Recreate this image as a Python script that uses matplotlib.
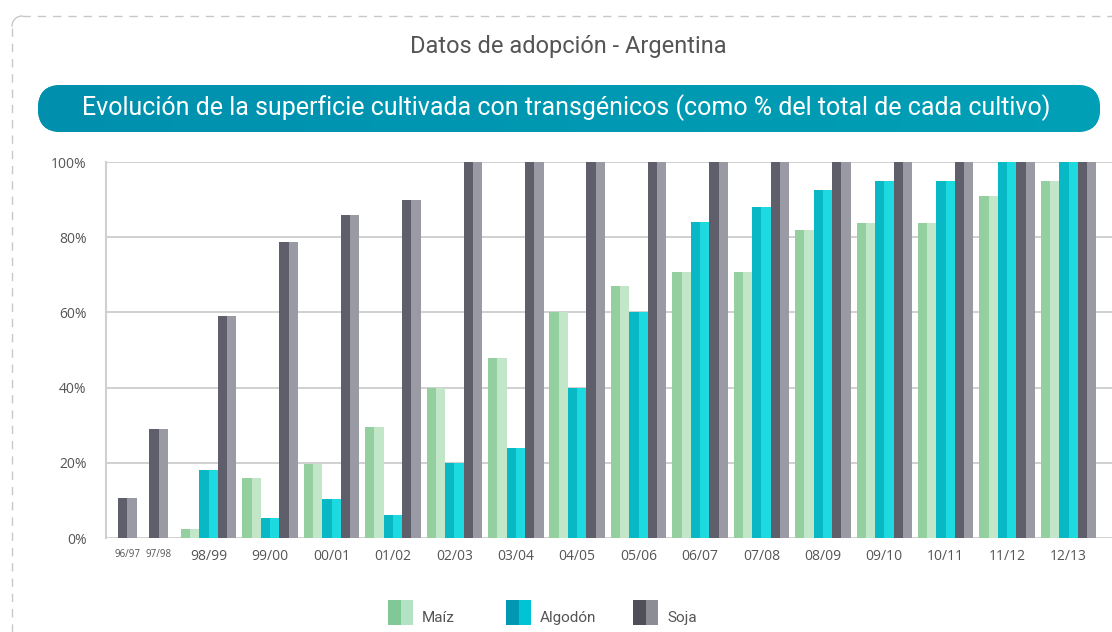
import numpy as np
import matplotlib
matplotlib.use("Agg")
import matplotlib.pyplot as plt
from matplotlib.patches import FancyBboxPatch, Rectangle

# data (% of each crop's total area)
campaigns = ["96/97", "97/98", "98/99", "99/00", "00/01", "01/02", "02/03", "03/04", "04/05",
             "05/06", "06/07", "07/08", "08/09", "09/10", "10/11", "11/12", "12/13"]
maiz = [None, None, 2.4, 16, 19.7, 29.4, 40, 48, 60, 67, 70.8, 70.8, 82, 83.7, 83.7, 91, 95]
algodon = [None, None, 18, 5.4, 10.3, 6, 20, 24, 40, 60, 84, 88, 92.5, 95, 95, 100, 100]
soja = [10.7, 29, 59, 78.6, 86, 89.8, 100, 100, 100, 100, 100, 100, 100, 100, 100, 100, 100]
series_names = ["Maíz", "Algodón", "Soja"]

# (left half, right half) colours
bar_cols = [("#94cfa0", "#c2e6c8"), ("#08b8c4", "#1dd9e0"), ("#5f5f6b", "#9a9aa4")]
key_cols = [("#80c997", "#b3e2c4"), ("#0097b2", "#00c4d6"), ("#4f4f5a", "#8c8c94")]

W, H = 1112, 632
fig = plt.figure(figsize=(W / 100, H / 100), dpi=100)

# background layer in pixel coordinates (frame, banner, legend keys)
bg = fig.add_axes([0, 0, 1, 1])
bg.set_xlim(0, W)
bg.set_ylim(H, 0)
bg.axis("off")

dash = dict(color="#c8c8c8", lw=1, ls=(0, (6, 5)))
bg.plot([22, W], [16, 16], **dash)
bg.plot([12, 12], [28, H], **dash)
t = np.linspace(np.pi, 1.5 * np.pi, 10)
bg.plot(22 + 10 * np.cos(t), 26 + 10 * np.sin(t), color="#c8c8c8", lw=1)

bg.text(568, 47, "Datos de adopción - Argentina", ha="center", va="center",
        fontsize=17, color="#555555", family="Roboto")

banner = FancyBboxPatch((38, 85), 1062, 47, boxstyle="round,pad=0,rounding_size=23",
                        fc="#0096b2", ec="none")
bg.add_patch(banner)
grad = np.linspace(0, 1, 256).reshape(1, -1)
cmap = matplotlib.colors.LinearSegmentedColormap.from_list("b", ["#0090ae", "#00a0b6"])
im = bg.imshow(grad, extent=(38, 1100, 132, 85), aspect="auto", cmap=cmap, zorder=2)
im.set_clip_path(banner)
bg.text(566, 108, "Evolución de la superficie cultivada con transgénicos (como % del total de cada cultivo)",
        ha="center", va="center", fontsize=18, color="white", family="Roboto", zorder=3)

# legend
key_x = [388, 506, 633]
for kx, name, (c1, c2) in zip(key_x, series_names, key_cols):
    bg.add_patch(Rectangle((kx, 600), 12.5, 25, fc=c1, ec="none"))
    bg.add_patch(Rectangle((kx + 12.5, 600), 12.5, 25, fc=c2, ec="none"))
    bg.text(kx + 34, 618, name, ha="left", va="center", fontsize=11, color="#555555", family="Roboto")

# main chart
ax = fig.add_axes([106 / W, 1 - 538 / H, 1 - 106 / W, (538 - 162) / H])
ax.set_facecolor("none")

bw = 1.0
gap_full, gap_single = 0.32, 0.7
px_x = 18.5          # pixels per x unit
px_y = 376 / 100     # pixels per % unit
x = 0.65
centers = []
for i in range(len(campaigns)):
    vals = [(k, v[i]) for k, v in enumerate((maiz, algodon, soja)) if v[i] is not None]
    for j, (k, v) in enumerate(vals):
        left = x + j * bw
        clip = FancyBboxPatch((left, -5), bw, v + 5,
                              boxstyle="round,pad=0,rounding_size=0.18",
                              mutation_aspect=px_x / px_y, transform=ax.transData)
        for h in range(2):
            b = ax.bar(left + h * bw / 2, v, width=bw / 2, align="edge",
                       color=bar_cols[k][h], lw=0, zorder=3, clip_on=False)
            b[0].set_clip_path(clip)
    n = len(vals)
    centers.append(x + n * bw / 2)
    x += n * bw + (gap_single if n == 1 else gap_full)

ax.set_xlim(0, (W - 106) / px_x)
ax.set_ylim(0, 100)
ax.set_yticks(range(0, 101, 20))
ax.set_yticklabels([f"{v}%" for v in range(0, 101, 20)], fontsize=10, color="#555555", family="Open Sans")
ax.set_xticks(centers)
ax.set_xticklabels(campaigns, color="#555555", family="Open Sans")
for lab in ax.get_xticklabels()[:2]:
    lab.set_fontsize(7)
for lab in ax.get_xticklabels()[2:]:
    lab.set_fontsize(10)
ax.tick_params(length=0, pad=8)
ax.tick_params(axis="y", pad=14)
ax.grid(axis="y", color="#c8c8c8", lw=1.2, zorder=0)
for s in ["top", "right", "bottom"]:
    ax.spines[s].set_visible(False)
ax.spines["left"].set_color("#d0d0d0")
ax.spines["left"].set_linewidth(1.5)

fig.savefig("out.png", dpi=100)
